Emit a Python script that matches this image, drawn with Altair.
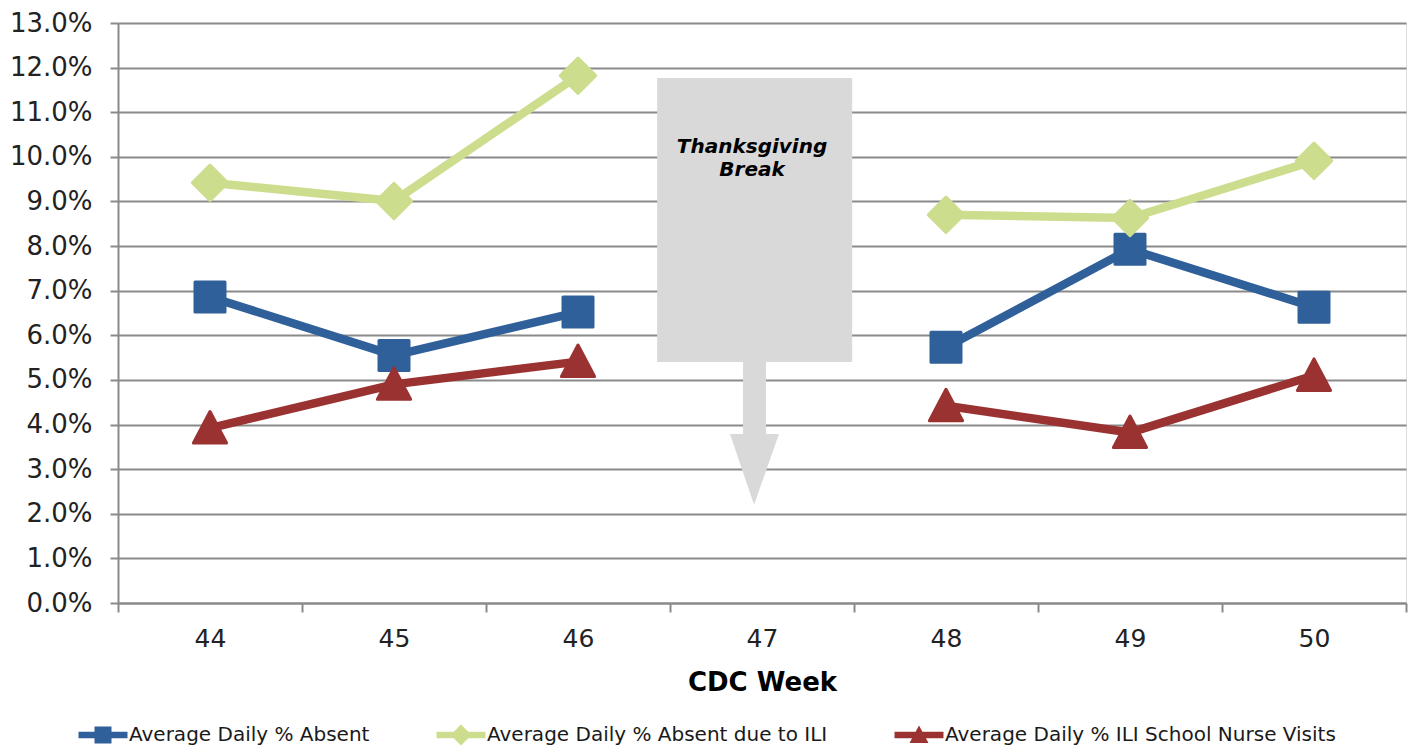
import altair as alt
import pandas as pd

# ---------------- data ----------------
all_weeks = ["44", "45", "46", "47", "48", "49", "50"]
weeks = ["44", "45", "46", "48", "49", "50"]
segments = ["before", "before", "before", "after", "after", "after"]

absent = [6.86, 5.55, 6.52, 5.73, 7.93, 6.63]
absent_ili = [9.42, 9.01, 11.82, 8.70, 8.63, 9.91]
nurse_visits = [3.92, 4.90, 5.41, 4.42, 3.82, 5.10]

series_names = [
    "Average Daily % Absent",
    "Average Daily % Absent due to ILI",
    "Average Daily % ILI School Nurse Visits",
]
series_values = [absent, absent_ili, nurse_visits]
series_colors = ["#30609a", "#cddd8e", "#9b3232"]

# callout annotation (in continuous week units / percent units)
box_x = [46.43, 47.49]
box_y = [11.77, 5.40]
shaft_x = [46.897, 47.022]
shaft_y = [5.40, 3.79]
head_x = [46.826, 46.957, 47.092]
head_top = [3.79, 3.79, 3.79]
head_bottom = [3.79, 2.20, 3.79]
label_lines = ["Thanksgiving", "Break"]
label_x = [46.946, 46.946]
label_y = [10.22, 9.71]

FONT = "DejaVu Sans"

rows = []
for name, vals in zip(series_names, series_values):
    for w, s, v in zip(weeks, segments, vals):
        rows.append({"series": name, "week": w, "segment": s, "value": v})
df = pd.DataFrame(rows)

color_scale = alt.Scale(domain=series_names, range=series_colors)

x_enc = alt.X(
    "week:O",
    scale=alt.Scale(domain=all_weeks, paddingInner=0, paddingOuter=0),
    axis=alt.Axis(
        title="CDC Week",
        titleFont=FONT,
        titleFontSize=26,
        titleFontWeight="bold",
        titleColor="#000000",
        titlePadding=18,
        labelFont=FONT,
        labelFontSize=25,
        labelColor="#222222",
        labelAngle=0,
        labelPadding=14,
        tickSize=9,
        tickColor="#8a8a8a",
        tickWidth=2,
        tickBand="extent",
        domainColor="#8a8a8a",
        domainWidth=2,
        grid=False,
    ),
)
y_enc = alt.Y(
    "value:Q",
    scale=alt.Scale(domain=[0, 13], nice=False, zero=True),
    axis=alt.Axis(
        title=None,
        values=list(range(0, 14)),
        labelExpr="format(datum.value, '.1f') + '%'",
        labelFont=FONT,
        labelFontSize=26,
        labelColor="#222222",
        labelPadding=18,
        tickSize=8,
        tickColor="#8a8a8a",
        tickWidth=2,
        domainColor="#8a8a8a",
        domainWidth=2,
        grid=True,
        gridColor="#8a8a8a",
        gridWidth=2,
    ),
)

base = alt.Chart(df).encode(x=x_enc, y=y_enc)

lines = base.mark_line(strokeWidth=8.5, strokeJoin="round", strokeCap="round").encode(
    color=alt.Color("series:N", scale=color_scale),
    detail="segment:N",
)

marker_specs = [
    dict(shape="square", size=900),
    dict(shape="diamond", size=1250),
    dict(shape="M0,-1L1,0.9L-1,0.9Z", size=1100),
]
point_layers = []
for name, col, spec in zip(series_names, series_colors, marker_specs):
    point_layers.append(
        base.transform_filter(alt.datum.series == name).mark_point(
            filled=True,
            opacity=1,
            fill=col,
            stroke=col,
            strokeWidth=3,
            strokeJoin="round",
            **spec,
        )
    )

legend_paths = [
    "M-0.98,-0.13L0.98,-0.13L0.98,0.13L-0.98,0.13Z M-0.34,-0.34L0.34,-0.34L0.34,0.34L-0.34,0.34Z",
    "M-0.98,-0.13L0.98,-0.13L0.98,0.13L-0.98,0.13Z M0,-0.42L0.42,0L0,0.42L-0.42,0Z",
    "M-0.98,-0.13L0.98,-0.13L0.98,0.13L-0.98,0.13Z M0,-0.38L0.38,0.32L-0.38,0.32Z",
]
legend_def = alt.Legend(
    title=None,
    orient="none",
    legendX=-40,
    legendY=687,
    direction="horizontal",
    columns=3,
    gridAlign="none",
    columnPadding=66,
    symbolSize=2500,
    symbolStrokeWidth=0,
    symbolOpacity=1,
    labelFont=FONT,
    labelFontSize=20,
    labelColor="#1a1a1a",
    labelOffset=1,
    labelLimit=600,
)
legend_layer = (
    alt.Chart(df)
    .transform_filter("false")
    .mark_point(filled=True, opacity=1)
    .encode(
        x=x_enc,
        y=y_enc,
        color=alt.Color("series:N", scale=color_scale, legend=legend_def),
        shape=alt.Shape("series:N", scale=alt.Scale(domain=series_names, range=legend_paths), legend=legend_def),
    )
)

# ---------------- callout ----------------
xq = alt.Scale(domain=[43.5, 50.5], nice=False, zero=False)
box_df = pd.DataFrame({"x1": [box_x[0], shaft_x[0]], "x2": [box_x[1], shaft_x[1]],
                       "y1": [box_y[0], shaft_y[0]], "y2": [box_y[1], shaft_y[1]]})
box = alt.Chart(box_df).mark_rect(color="#d9d9d9").encode(
    x=alt.X("x1:Q", scale=xq, axis=None),
    x2="x2:Q",
    y=alt.Y("y1:Q"),
    y2="y2:Q",
)
head_df = pd.DataFrame({"x": head_x, "top": head_top, "bottom": head_bottom})
head = alt.Chart(head_df).mark_area(color="#d9d9d9", opacity=1).encode(
    x=alt.X("x:Q", scale=xq, axis=None),
    y=alt.Y("top:Q"),
    y2="bottom:Q",
)
label_df = pd.DataFrame({"x": label_x, "y": label_y, "t": label_lines})
label = alt.Chart(label_df).mark_text(
    font=FONT, fontSize=20, fontWeight="bold", fontStyle="italic", color="#000000"
).encode(
    x=alt.X("x:Q", scale=xq, axis=None),
    y=alt.Y("y:Q"),
    text="t:N",
)

data_layers = alt.layer(lines, *point_layers, legend_layer)
callout_layers = alt.layer(box, head, label)

chart = (
    alt.layer(data_layers, callout_layers)
    .resolve_scale(x="independent")
    .properties(
        width=1288,
        height=580,
        autosize="none",
        padding={"left": 110, "top": 15, "right": 2, "bottom": 145},
    )
    .configure_view(stroke=None)
    .configure(background="white")
)

chart.save("out.html", embed_options={"renderer": "svg", "actions": False})
